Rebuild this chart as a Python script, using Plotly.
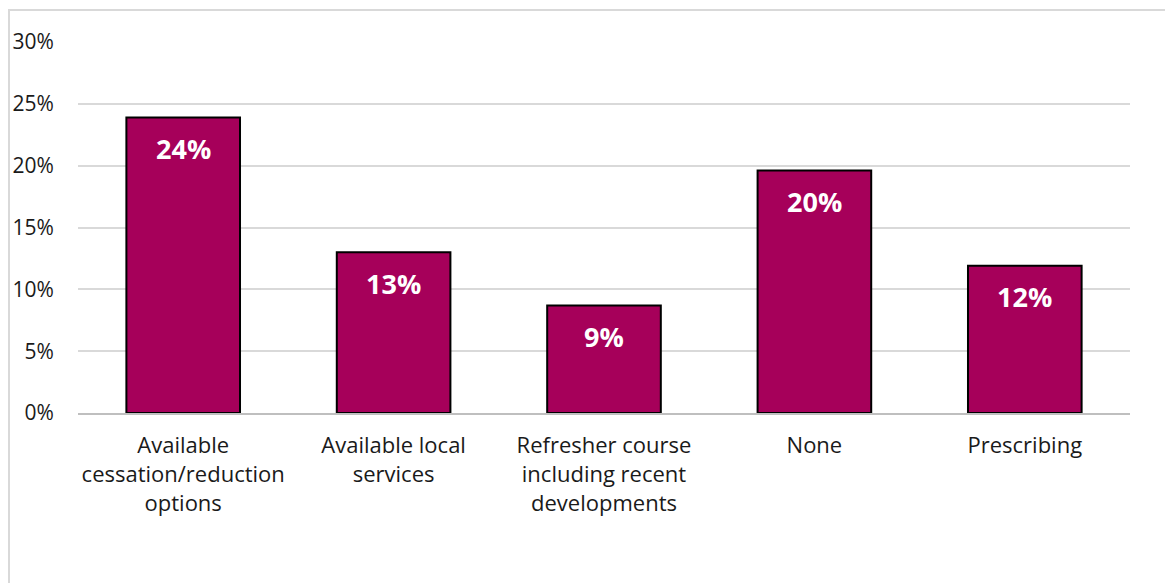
import plotly.graph_objects as go

categories = [
    "Available<br>cessation/reduction<br>options",
    "Available local<br>services",
    "Refresher course<br>including recent<br>developments",
    "None",
    "Prescribing",
]
values = [23.9, 13.0, 8.7, 19.6, 11.9]
tick_vals = [0, 5, 10, 15, 20, 25, 30]
tick_text = ["0%", "5%", "10%", "15%", "20%", "25%", "30%"]

BAR = "#A6005A"
GRID = "#D9D9D9"
FONT = "Open Sans"
TXT = "#1A1A1A"

fig = go.Figure()
fig.add_trace(go.Bar(
    x=categories, y=values, width=0.54,
    marker=dict(color=BAR, line=dict(color="#000000", width=2)),
    hoverinfo="skip",
))

for c, v in zip(categories, values):
    fig.add_annotation(
        x=c, y=v, xref="x", yref="y", text=f"<b>{v:.0f}%</b>",
        showarrow=False, yanchor="middle", yshift=-31,
        font=dict(family=FONT, size=27, color="white"),
    )

# outer chart-area frame (only top and left edges visible)
fig.add_shape(type="rect", xref="paper", yref="paper",
              x0=-0.0656, x1=1.3, y0=-0.8, y1=1.0863,
              line=dict(color=GRID, width=2), fillcolor="rgba(0,0,0,0)", layer="below")

fig.update_layout(
    width=1173, height=583,
    margin=dict(l=70, r=51, t=34, b=178, autoexpand=False),
    paper_bgcolor="white", plot_bgcolor="white",
    showlegend=False,
    font=dict(family=FONT, size=22, color=TXT),
)
fig.update_xaxes(
    showgrid=False, showline=True, linecolor="#BFBFBF", linewidth=2,
    ticks="outside", ticklen=12, tickcolor="rgba(0,0,0,0)",
    tickfont=dict(family=FONT, size=22, color=TXT), automargin=False,
)
fig.update_yaxes(
    range=[0, 30], tickvals=tick_vals, ticktext=tick_text,
    showgrid=True, gridcolor=GRID, gridwidth=2, zeroline=False, showline=False,
    ticks="outside", ticklen=19, tickcolor="rgba(0,0,0,0)",
    tickfont=dict(family=FONT, size=21, color=TXT), automargin=False,
)

fig.write_html("out.html")
